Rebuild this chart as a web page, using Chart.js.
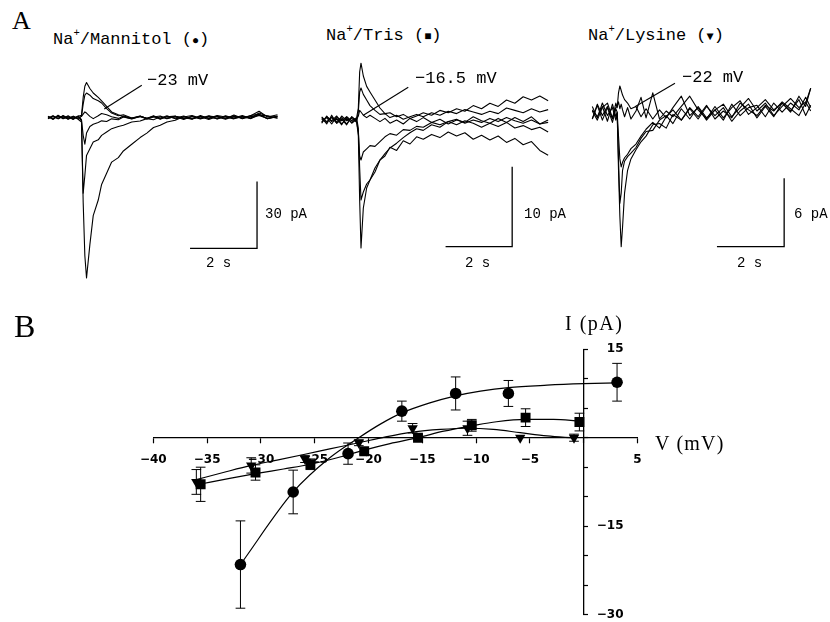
<!DOCTYPE html>
<html>
<head>
<meta charset="utf-8">
<script src="https://cdn.jsdelivr.net/npm/chart.js@4.4.0/dist/chart.umd.min.js"></script>
<style>
  html, body { margin: 0; padding: 0; background: #fff; overflow: hidden; }
  body { width: 830px; height: 622px; position: relative; }
  canvas { position: absolute; }
  .t { position: absolute; white-space: nowrap; color: #000; line-height: 1; }
  .serif { font-family: "Liberation Serif", serif; }
  .mono { font-family: "Liberation Mono", monospace; }
  .t sup { font-size: 0.62em; vertical-align: 0.75em; line-height: 0; }
  .sym { font-size: 0.7em; }
</style>
</head>
<body>
<canvas id="a1"></canvas>
<canvas id="a2"></canvas>
<canvas id="a3"></canvas>
<canvas id="b"></canvas>
<canvas id="bl"></canvas>

<div class="t serif" style="left:12px;top:8px;font-size:26px">A</div>
<div class="t serif" style="left:14px;top:310px;font-size:32px">B</div>

<div class="t mono" style="left:53px;top:31px;font-size:17px">Na<sup>+</sup>/Mannitol (<span class="sym">●</span>)</div>
<div class="t mono" style="left:326px;top:27px;font-size:17px">Na<sup>+</sup>/Tris (<span class="sym">■</span>)</div>
<div class="t mono" style="left:588px;top:27px;font-size:17px">Na<sup>+</sup>/Lysine (<span class="sym">▼</span>)</div>

<div class="t mono" style="left:147px;top:72px;font-size:17px">−23 mV</div>
<div class="t mono" style="left:415px;top:70px;font-size:17px">−16.5 mV</div>
<div class="t mono" style="left:682px;top:69px;font-size:17px">−22 mV</div>

<div class="t mono" style="left:265px;top:207px;font-size:14px">30 pA</div>
<div class="t mono" style="left:524px;top:207px;font-size:14px">10 pA</div>
<div class="t mono" style="left:794px;top:207px;font-size:14px">6 pA</div>
<div class="t mono" style="left:206px;top:256px;font-size:14px">2 s</div>
<div class="t mono" style="left:465px;top:256px;font-size:14px">2 s</div>
<div class="t mono" style="left:737px;top:256px;font-size:14px">2 s</div>

<div class="t serif" style="left:565px;top:313px;font-size:20px;letter-spacing:1.5px">I (pA)</div>
<div class="t serif" style="left:655px;top:433px;font-size:20px;letter-spacing:1.2px">V (mV)</div>

<script>
// ---------- A: current traces (time in s, current in pA) ----------
const tMannitol = [0, 0.15, 0.3, 0.45, 0.6, 0.75, 0.9, 1.0, 1.05, 1.1, 1.15, 1.25, 1.35, 1.5, 1.6, 1.75, 1.9, 2.1, 2.25, 2.5, 2.75, 2.95, 3.15, 3.35, 3.55, 3.8, 4.05, 4.3, 4.55, 4.8, 5.05, 5.3, 5.55, 5.8, 6.05, 6.3, 6.55, 6.85];
const tracesMannitol = [
  [0.6, -0.9, 1.0, -0.4, 0.8, -0.7, 0.5, -1.5, -38, -62, -72, -57, -44, -37, -30, -25, -20, -18, -15, -12, -9, -7, -4.5, -3.5, -2, -1.2, 0.4, -0.8, 0.9, -0.5, 0.7, -0.6, 1.1, -0.3, 0.8, 2.8, 0.2, 1.2],
  [-0.5, 0.7, -0.6, 0.9, -0.3, 0.6, -0.8, -2, -34, -26, -17, -14, -11, -10, -8, -6.5, -5, -4, -3.5, -2, -1.6, -0.5, -1, 0.3, -0.6, 0.5, -0.9, 0.6, -0.4, 0.8, -0.7, 0.5, -0.2, 0.9, -0.5, 1.5, -0.6, 0.4],
  [0.3, -0.6, 0.5, -0.2, 0.4, -0.9, 0.7, -1, -8, -12, -7, -4, -3, -2.2, -1.5, -1.8, -0.6, -1, 0.2, -0.7, 0.5, -0.3, 0.6, -0.8, 0.4, -0.2, 0.7, -0.6, 0.3, -0.9, 0.5, -0.3, 0.8, -0.6, 0.4, 0.9, -0.4, 0.6],
  [-0.2, 0.8, -0.5, 0.3, -0.7, 0.5, -0.3, 0.5, 1.5, 2.5, 2, 0.5, -0.5, 0.8, 1.8, 1.2, 0.3, -0.4, 0.6, -0.2, 0.7, -0.5, 0.3, -0.3, 0.8, -0.6, 0.2, 0.9, -0.4, 0.3, -0.6, 0.8, -0.3, 0.5, -0.2, 2.0, 0.6, -0.3],
  [0.4, -0.5, 0.8, -0.6, 0.2, -0.3, 0.6, 1, 9, 14, 15.7, 13, 11, 9, 7.5, 5, 2.5, 1.2, 0.4, -0.5, 0.6, -0.4, 0.8, -0.6, 0.3, 0.6, -0.5, 0.4, -0.7, 0.6, 0.2, -0.8, 0.5, -0.2, 0.9, 1.5, -0.5, 0.7],
  [-0.6, 0.4, -0.3, 0.7, -0.8, 0.2, -0.4, 0.5, 6, 10, 11, 10, 8.5, 7.5, 6.5, 4, 2, 0.8, 1.2, -0.2, 0.4, -0.7, 0.2, 0.7, -0.4, 0.5, -0.2, -0.7, 0.6, -0.3, 0.9, 0.2, -0.6, 0.4, -0.4, 1.0, 0.8, -0.2]
];

const tTris = [0, 0.15, 0.3, 0.45, 0.6, 0.75, 0.9, 1.05, 1.1, 1.14, 1.18, 1.25, 1.35, 1.45, 1.6, 1.75, 1.9, 2.05, 2.25, 2.45, 2.65, 2.85, 3.05, 3.3, 3.55, 3.8, 4.05, 4.3, 4.55, 4.8, 5.05, 5.3, 5.55, 5.8, 6.05, 6.3, 6.55, 6.8];
const tracesTris = [
  [0.3, -0.5, 0.6, -0.4, 0.1, -0.6, 0.4, -0.2, -2, -10, -16, -11, -8.5, -7.5, -6, -5, -4.5, -3.4, -3.8, -2.6, -3.0, -2.1, -2.4, -1.8, -2.2, -1.5, -2.0, -1.6, -2.4, -1.9, -2.5, -2.0, -2.8, -2.3, -3.1, -2.7, -3.8, -4.4],
  [-0.3, 0.4, -0.1, 0.5, -0.5, 0.2, -0.3, 0.2, -1, -6, -10, -9, -8, -7.5, -6.5, -5, -4.2, -3.5, -2.9, -2.2, -1.6, -1.1, -1.3, -0.6, -0.9, -0.2, -0.6, -0.1, -0.4, -0.9, -0.4, -0.8, -0.3, -1.0, -0.7, -1.2, -0.9, -1.5],
  [0.4, -0.2, 0.3, -0.4, 0.5, -0.1, 0.2, -0.3, -1.5, -4.5, -5, -4, -3.6, -3.2, -3.3, -2.7, -2.1, -1.7, -1.9, -1.2, -1.3, -0.8, -0.9, -0.3, -0.6, -0.2, 0.1, -0.4, 0.0, -0.3, 0.2, -0.2, 0.3, -0.1, -0.4, 0.0, -0.5, -0.3],
  [-0.4, 0.5, -0.2, 0.2, -0.6, 0.4, -0.1, 0.3, 1.5, 6, 7.1, 5.5, 4.2, 3.5, 2.5, 1.5, 0.8, 0.9, 0.4, 0.7, 0.2, 0.5, 0.9, 0.6, 1.2, 0.9, 1.4, 1.1, 1.8, 1.4, 2.1, 1.7, 2.5, 2.1, 2.9, 2.5, 3.0, 2.4],
  [0.1, -0.3, 0.4, -0.2, 0.3, -0.5, 0.4, -0.1, 1, 3.5, 4, 3.2, 2.5, 1.8, 1.2, 0.7, 0.8, 0.3, 0.6, 0.1, 0.4, 0.7, 0.4, 0.9, 0.6, 1.1, 0.8, 1.3, 1.0, 0.7, 1.1, 0.8, 1.5, 1.2, 0.9, 1.4, 1.0, 1.3],
  [-0.2, 0.3, -0.5, 0.4, -0.1, 0.4, -0.4, 0.1, 0.5, 1.2, 1.0, 0.6, 0.3, 0.6, 0.2, -0.2, 0.2, -0.4, 0.0, -0.5, 0.2, -0.2, 0.3, -0.3, 0.1, -0.5, 0.0, -0.3, 0.4, -0.1, -0.4, 0.2, -0.3, 0.3, -0.2, 0.4, -0.5, 0.0]
];

const tLysine = [0, 0.15, 0.3, 0.45, 0.6, 0.7, 0.74, 0.78, 0.82, 0.86, 0.9, 0.96, 1.05, 1.15, 1.3, 1.45, 1.6, 1.8, 2.0, 2.2, 2.4, 2.65, 2.9, 3.15, 3.4, 3.65, 3.9, 4.15, 4.4, 4.65, 4.9, 5.15, 5.4, 5.65, 5.9, 6.15, 6.35, 6.5];
const tracesLysine = [
  [0.6, -0.4, 0.9, -0.2, 0.5, -0.6, 0, -5, -9, -11.7, -10, -7, -5, -4, -3.2, -2.5, -2, -1.0, -0.9, -1.3, -0.1, -0.6, 0.4, -0.5, 0.6, -0.2, 0.5, -0.7, 0.2, 0.8, -0.4, 0.6, -0.3, 0.9, 0.2, 1.2, -0.2, 0.7],
  [-0.5, 0.7, -0.6, 0.5, -0.8, 0.4, 0.1, -4, -7.9, -7, -5, -4.2, -3.8, -3.5, -3, -2.2, -1.6, -1.5, -0.6, -0.2, -0.9, 0.4, -0.5, 0.6, -0.4, 0.3, -0.6, 0.8, -0.2, 0.5, 0.7, -0.3, 0.9, 0.1, 0.9, 0.3, 1.4, 0.5],
  [0.3, -0.3, 0.6, -0.7, 0.8, -0.3, 0.1, -2, -4, -4.7, -4.3, -3.9, -3.6, -3.1, -2.7, -2.0, -1.4, -0.8, -1.3, -0.3, 0.3, -0.6, 0.5, -0.3, 0.7, -0.5, 0.2, -0.4, 0.9, 0.3, -0.2, 0.7, 0.2, 1.0, 0.4, -0.2, 0.9, 2.2],
  [-0.5, 0.8, -0.2, 0.6, -0.5, 0.9, 0.5, 1.8, 2.4, 2.0, 1.6, 1.2, 0.9, 0.4, 0.6, -0.3, 0.4, -0.5, 0.3, -0.4, 0.5, 1.5, -0.2, 0.5, -0.6, 0.3, 0.8, -0.3, 0.5, 1.3, 0.2, 0.9, -0.2, 0.6, 1.3, 0.5, 1.0, 0.2],
  [0.2, -0.6, 0.5, 0.9, -0.4, 0.5, 0.6, 1.0, 0.4, 0.8, 0.3, -0.3, 0.5, -0.5, 0.2, 1.4, -0.4, 1.8, -0.5, 0.2, -0.3, 0.6, 1.5, 0.3, -0.5, 0.6, -0.4, 0.5, 1.1, -0.1, 0.5, 1.2, 0.3, 0.9, 0.1, 1.5, 0.6, 2.2]
];

// scale bars: [time (s), current (pA)]
const barMannitol = [2, 30];
const barTris = [2, 10];
const barLysine = [2, 6];

// ---------- B: I-V relation ----------
const vMannitol = [-31.9, -27.0, -21.9, -16.9, -11.9, -7.0, 3.1];
const iMannitol = [-21.5, -9.2, -2.7, 4.5, 7.5, 7.5, 9.4];
const eMannitol = [7.4, 3.7, 1.8, 1.7, 2.8, 2.2, 3.2];

const vTris = [-35.6, -30.5, -25.4, -20.4, -15.4, -10.4, -5.4, -0.4];
const iTris = [-7.9, -5.9, -4.5, -2.3, 0.0, 2.1, 3.4, 2.65];
const eTris = [2.9, 1.3, 0.9, 0.5, 0.5, 1.0, 1.5, 1.5];

const vLysine = [-36.0, -30.9, -25.9, -20.9, -15.9, -10.8, -5.9, -0.9];
const iLysine = [-7.5, -4.7, -3.6, -0.85, 1.6, 1.6, 0.0, 0.0];
const eLysine = [2.1, 1.3, 0.6, 0.5, 0.8, 1.2, 0, 0.6];

// fitted curves
const fitMannitolV = [-31.9, -27.0, -23.6, -20.9, -18.9, -16.9, -14.3, -11.9, -9.6, -7.0, -3.4, 0, 3.1];
const fitMannitolI = [-21.5, -9.2, -3.4, 0, 2.3, 4.2, 5.9, 7.1, 7.9, 8.5, 8.9, 9.15, 9.3];
const fitTrisV = [-35.6, -32.9, -30.5, -27.9, -25.4, -22.9, -20.4, -18.0, -15.4, -13.0, -10.4, -8.1, -5.4, -2.8, -0.4];
const fitTrisI = [-7.85, -6.9, -6.1, -5.3, -4.5, -3.4, -2.1, -1.0, 0, 1.1, 2.0, 2.7, 3.1, 3.1, 2.8];
const fitLysineV = [-36.0, -33.5, -30.9, -28.5, -25.9, -23.6, -20.9, -18.4, -15.9, -13.3, -10.8, -8.4, -5.9, -3.4, -0.9];
const fitLysineI = [-7.1, -5.9, -4.7, -3.8, -2.8, -1.9, -0.85, 0.15, 0.95, 1.4, 1.6, 1.4, 0.85, 0.3, -0.05];

const vTicks = [-40, -35, -30, -25, -20, -15, -10, -5, 0, 5];
const vTickLabels = ['−40', '−35', '−30', '−25', '−20', '−15', '−10', '−5', '', '5'];
const iTicks = [-30, -25, -20, -15, -10, -5, 0, 5, 10, 15];
const iTickLabels = ['−30', '', '', '−15', '', '', '', '', '', '15'];

// ---------- panel A charts ----------
// box: canvas rect on the page, t=0 / I=0 pixel and px per unit
const panelsA = [
  { id: 'a1', left: 40, top: 55, w: 240, h: 240, x0: 48, sx: 33.5, y0: 117.5, sy: 2.23,
    t: tMannitol, traces: tracesMannitol, bar: barMannitol, barAt: [6.24, -58.7], note: [[1.68, 3.8], [2.8, 14.5]] },
  { id: 'a2', left: 300, top: 55, w: 255, h: 240, x0: 321.7, sx: 33.3, y0: 120, sy: 8,
    t: tTris, traces: tracesTris, bar: barTris, barAt: [5.72, -15.84], note: [[1.25, 0.6], [2.6, 4.1]] },
  { id: 'a3', left: 575, top: 55, w: 250, h: 240, x0: 592.3, sx: 33.6, y0: 113.3, sy: 11.4,
    t: tLysine, traces: tracesLysine, bar: barLysine, barAt: [5.71, -11.7], note: [[1.27, 0.58], [2.46, 2.63]] }
];

panelsA.forEach(p => {
  const cv = document.getElementById(p.id);
  cv.width = p.w; cv.height = p.h;
  cv.style.left = p.left + 'px'; cv.style.top = p.top + 'px';

  const datasets = p.traces.map(tr => ({
    data: p.t.map((t, k) => ({ x: t, y: tr[k] })),
    borderColor: '#000', borderWidth: 1.1, pointRadius: 0, tension: 0, borderJoinStyle: 'round'
  }));
  const [bt, bi] = p.barAt;
  datasets.push({
    data: [{ x: bt - p.bar[0], y: bi }, { x: bt, y: bi }, { x: bt, y: bi + p.bar[1] }],
    borderColor: '#000', borderWidth: 1.3, pointRadius: 0, tension: 0
  });
  datasets.push({
    data: p.note.map(q => ({ x: q[0], y: q[1] })),
    borderColor: '#000', borderWidth: 1.1, pointRadius: 0, tension: 0
  });

  new Chart(cv, {
    type: 'line',
    data: { datasets },
    options: {
      responsive: false, animation: false, events: [],
      layout: { padding: 0 },
      plugins: { legend: { display: false }, tooltip: { enabled: false } },
      scales: {
        x: { type: 'linear', display: false, min: (p.left - p.x0) / p.sx, max: (p.left + p.w - p.x0) / p.sx },
        y: { type: 'linear', display: false, min: (p.y0 - p.top - p.h) / p.sy, max: (p.y0 - p.top) / p.sy }
      }
    }
  });
});

// ---------- panel B chart ----------
const capW = 0.45;
function errorSegments(vs, is, es) {
  const pts = [];
  vs.forEach((v, k) => {
    if (!es[k]) return;
    const lo = is[k] - es[k], hi = is[k] + es[k];
    pts.push({ x: v, y: lo }, { x: v, y: hi }, { x: v, y: null },
             { x: v - capW, y: hi }, { x: v + capW, y: hi }, { x: v, y: null },
             { x: v - capW, y: lo }, { x: v + capW, y: lo }, { x: v, y: null });
  });
  return pts;
}
const xy = (xs, ys) => xs.map((x, k) => ({ x, y: ys[k] }));

const markerStyle = { showLine: false, backgroundColor: '#000', borderColor: '#000', borderWidth: 0 };
const lineStyle = { borderColor: '#000', borderWidth: 1.2, pointRadius: 0, cubicInterpolationMode: 'monotone' };
const errStyle = { borderColor: '#000', borderWidth: 1, pointRadius: 0, tension: 0, spanGaps: false };
const tickFont = { family: 'DejaVu Sans', size: 12, weight: 'bold' };

// chart area of panel B inside its canvas (canvas top at page y 300)
const padB = { left: 153.3, right: 192.5, top: 49.2, bottom: 15.3 };

const cb = document.getElementById('b');
cb.width = 830; cb.height = 330;
cb.style.left = '0px'; cb.style.top = '300px';

new Chart(cb, {
  type: 'line',
  data: {
    datasets: [
      { ...markerStyle, data: xy(vMannitol, iMannitol), pointStyle: 'circle', pointRadius: 5.8 },
      { ...markerStyle, data: xy(vTris, iTris), pointStyle: 'rect', pointRadius: 7 },
      { ...markerStyle, data: xy(vLysine, iLysine), pointStyle: 'triangle', pointRotation: 180, pointRadius: 6 },
      { ...errStyle, data: errorSegments(vMannitol, iMannitol, eMannitol) },
      { ...errStyle, data: errorSegments(vTris, iTris, eTris) },
      { ...errStyle, data: errorSegments(vLysine, iLysine, eLysine) },
      { ...lineStyle, data: xy(fitMannitolV, fitMannitolI) },
      { ...lineStyle, data: xy(fitTrisV, fitTrisI) },
      { ...lineStyle, data: xy(fitLysineV, fitLysineI) }
    ]
  },
  options: {
    responsive: false, animation: false, events: [],
    layout: { padding: padB },
    plugins: { legend: { display: false }, tooltip: { enabled: false } },
    scales: {
      x: {
        type: 'linear', min: -40, max: 5, position: { y: 0 },
        afterBuildTicks: s => { s.ticks = vTicks.map(v => ({ value: v })); },
        grid: { drawOnChartArea: false, drawTicks: true, tickLength: 5, tickColor: '#000', tickWidth: 1.2 },
        border: { display: true, color: '#000', width: 1.3 },
        ticks: {
          autoSkip: false, maxRotation: 0, padding: 10, color: '#000', font: tickFont,
          callback: v => vTickLabels[vTicks.indexOf(v)]
        }
      },
      y: {
        type: 'linear', min: -30, max: 15, position: { x: 0 },
        afterBuildTicks: s => { s.ticks = iTicks.map(v => ({ value: v })); },
        grid: { drawOnChartArea: false, drawTicks: true, tickLength: -5, tickColor: '#000', tickWidth: 1.2 },
        border: { display: true, color: '#000', width: 1.3 },
        ticks: { display: false }
      }
    }
  }
});

// I-axis tick labels sit right of the axis: a narrow chart whose left axis ends at x = 623.5
const cl = document.getElementById('bl');
cl.width = 70; cl.height = 330;
cl.style.left = '560px'; cl.style.top = '300px';

new Chart(cl, {
  type: 'line',
  data: { datasets: [] },
  options: {
    responsive: false, animation: false, events: [],
    layout: { padding: { left: 33.5, right: 0, top: padB.top, bottom: padB.bottom } },
    plugins: { legend: { display: false }, tooltip: { enabled: false } },
    scales: {
      x: { type: 'linear', display: false, min: 0, max: 1 },
      y: {
        type: 'linear', min: -30, max: 15, position: 'left',
        afterBuildTicks: s => { s.ticks = iTicks.map(v => ({ value: v })); },
        afterFit: s => { s.width = 30; },
        grid: { display: false, drawTicks: false },
        border: { display: false },
        ticks: { padding: 0, color: '#000', font: tickFont, autoSkip: false,
                 callback: v => iTickLabels[iTicks.indexOf(v)] }
      }
    }
  }
});
</script>
</body>
</html>
